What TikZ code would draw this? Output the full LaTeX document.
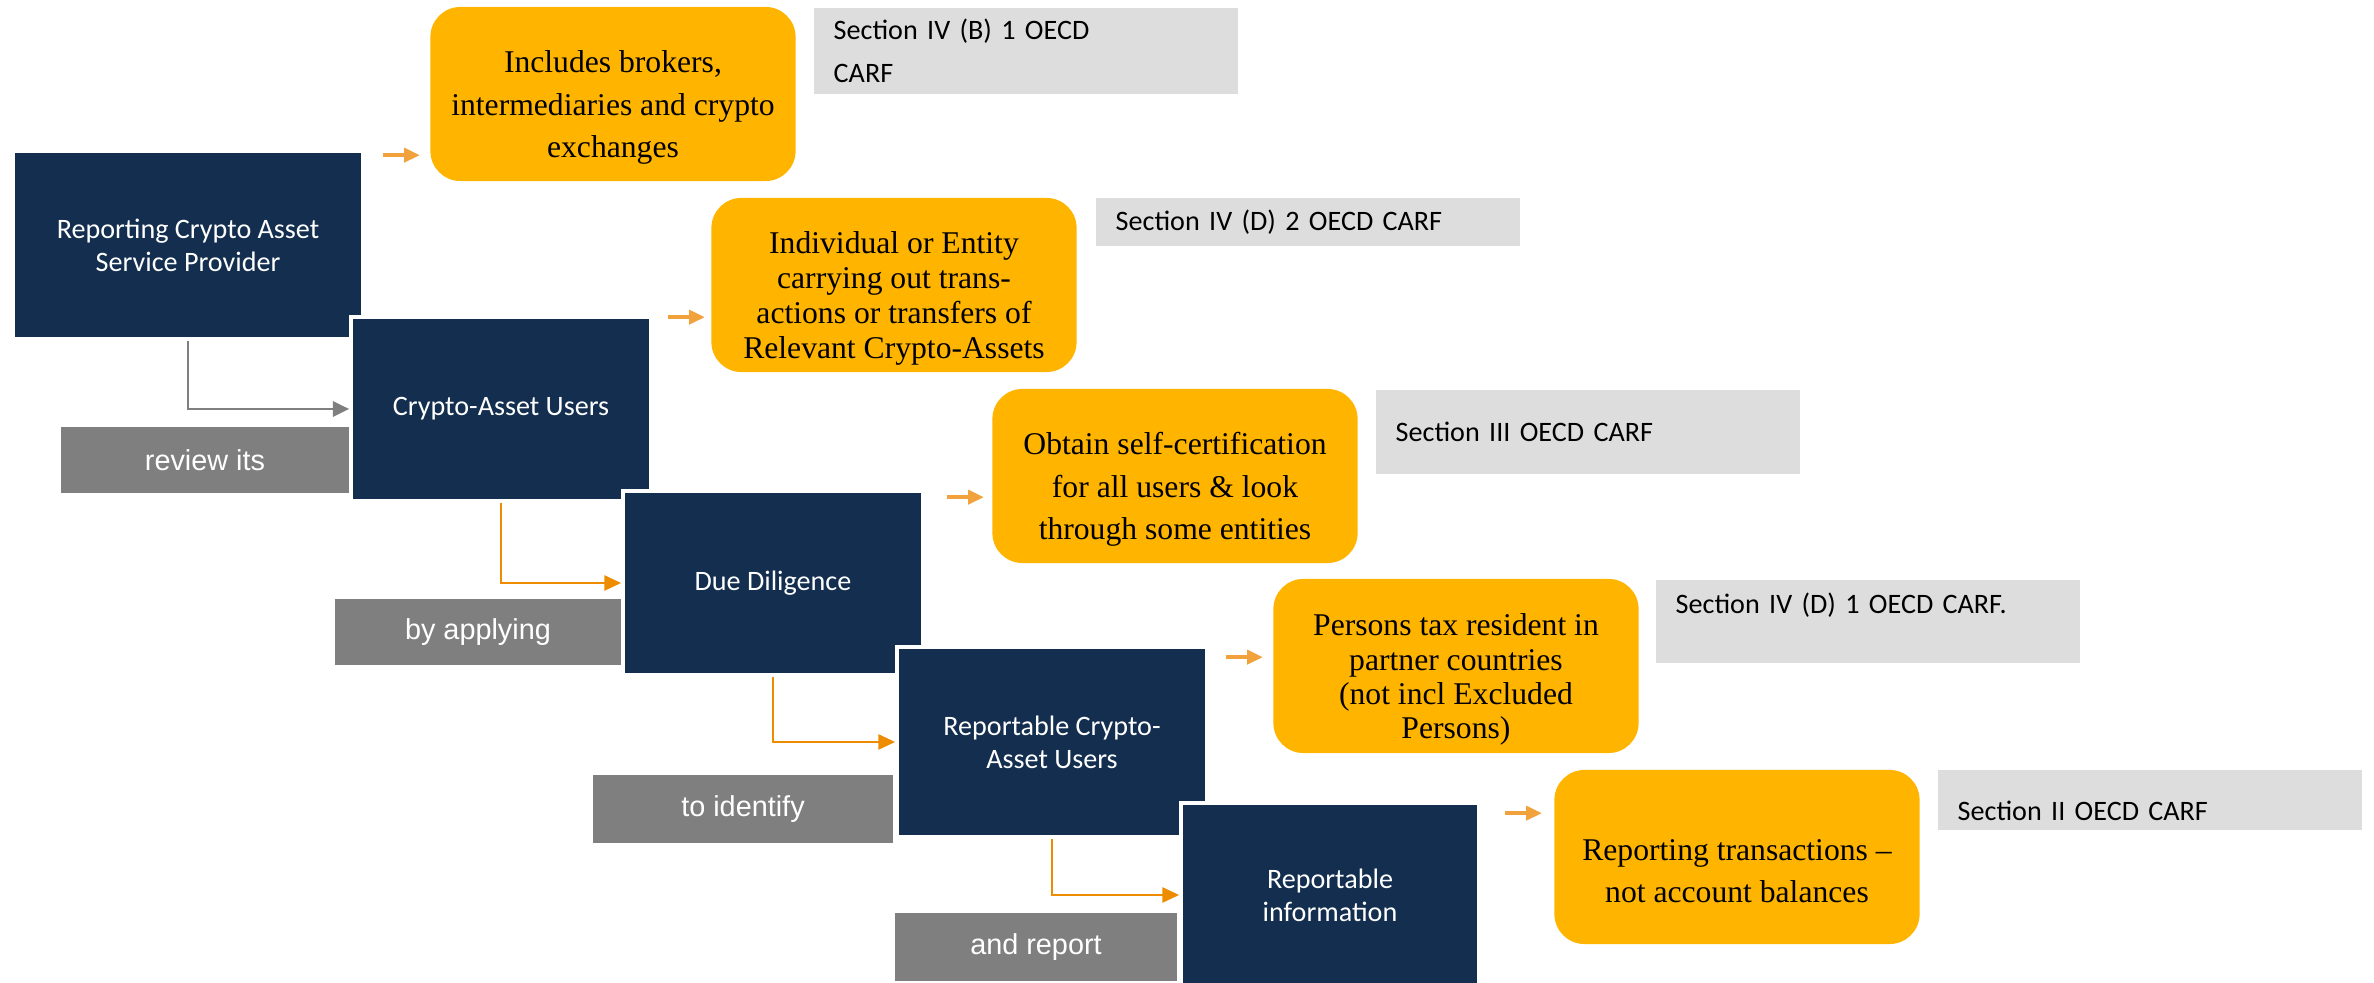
\documentclass[tikz,border=0pt]{standalone}
\usepackage{fontspec}
\setmainfont{Liberation Serif}
\newfontfamily\calibri{Carlito}
\newfontfamily\arialfont{Liberation Sans}
\usetikzlibrary{arrows.meta}
\definecolor{navy}{HTML}{132E4F}
\definecolor{amber}{HTML}{FFB400}
\definecolor{slate}{HTML}{7F7F7F}
\definecolor{mist}{HTML}{DDDDDD}
\definecolor{rust}{HTML}{EE8C00}
\definecolor{peach}{HTML}{F2A23C}
\newcommand\lowline{\rule{0pt}{14pt}}
\tikzset{
  darkbox/.style={fill=navy, draw=white, line width=1pt, text=white, align=center,
    inner sep=0pt, font=\calibri\fontsize{8}{9.4}\selectfont},
  ambox/.style={fill=amber, rounded corners=0.3cm, align=center, inner sep=0pt,
    minimum width=3.65cm, minimum height=1.74cm, font=\fontsize{9}{12}\selectfont},
  refbox/.style={fill=mist, anchor=north west, align=left, inner xsep=0.2cm, inner ysep=0pt,
    text width=3.84cm, font=\calibri\fontsize{8}{12}\selectfont},
  tagbox/.style={fill=slate, text=white, inner sep=0pt, font=\arialfont\fontsize{8.2}{10}\selectfont},
  greyarrow/.style={draw=slate, line width=0.7pt, -{Triangle[length=4.6pt,width=4.3pt]}},
  amberarrow/.style={draw=rust, line width=0.7pt, -{Triangle[length=4.8pt,width=4.3pt]}},
  nudge/.style={draw=peach, line width=1.1pt, -{Triangle[length=4.5pt,width=4pt]}}
}
\begin{document}
\begin{tikzpicture}[x=0.01cm, y=-0.01cm]
  \useasboundingbox (0,0) rectangle (2374,983);

  % grey tags
  \node[tagbox, minimum width=2.88cm, minimum height=0.66cm] (review) at (205,460) {review its};
  \node[tagbox, minimum width=2.86cm, minimum height=0.66cm] (apply) at (478,632) {by applying};
  \node[tagbox, minimum width=3.00cm, minimum height=0.68cm] (identify) at (743,809) {to identify};
  \node[tagbox, minimum width=2.82cm, minimum height=0.68cm] (report) at (1036,947) {and report};

  % dark steps
  \node[darkbox, minimum width=3.50cm, minimum height=1.88cm] (rcasp) at (188,245) {Reporting Crypto Asset\\Service Provider};
  \node[darkbox, minimum width=3.00cm, minimum height=1.84cm] (users) at (501,409) {Crypto-Asset Users};
  \node[darkbox, minimum width=3.00cm, minimum height=1.84cm] (dd) at (773,583) {Due Diligence};
  \node[darkbox, minimum width=3.10cm, minimum height=1.90cm] (repusers) at (1052,742) {Reportable Crypto-\\Asset Users};
  \node[darkbox, minimum width=2.98cm, minimum height=1.84cm] (repinfo) at (1330,895) {Reportable\\information};

  \draw[greyarrow] (rcasp.south) |- (users.west);
  \draw[amberarrow] (users.south) |- (dd.west);
  \draw[amberarrow] (dd.south) |- (repusers.west);
  \draw[amberarrow] (repusers.south) |- (repinfo.west);

  % definitions
  \node[ambox] (brokers) at (613,94) {\lowline Includes brokers,\\intermediaries and crypto\\exchanges};
  \node[ambox, font=\fontsize{9}{10}\selectfont] (entity) at (894,285) {\lowline Individual or Entity\\carrying out trans-\\actions or transfers of\\Relevant Crypto-Assets};
  \node[ambox] (selfcert) at (1175,476) {\lowline Obtain self-certification\\for all users \& look\\through some entities};
  \node[ambox, font=\fontsize{9}{9.8}\selectfont] (residents) at (1456,666) {\lowline Persons tax resident in\\partner countries\\(not incl Excluded\\Persons)};
  \node[ambox] (transactions) at (1737,857) {\lowline Reporting transactions –\\not account balances};

  \draw[nudge] ([shift={(18,6)}]rcasp.north east) -- ++(37,0);
  \draw[nudge] ([shift={(15,2)}]users.north east) -- ++(37,0);
  \draw[nudge] ([shift={(22,8)}]dd.north east) -- ++(37,0);
  \draw[nudge] ([shift={(17,12)}]repusers.north east) -- ++(37,0);
  \draw[nudge] ([shift={(24,12)}]repinfo.north east) -- ++(37,0);

  % references
  \node[refbox, minimum height=0.86cm] (ref1) at (813,7) {Section IV (B) 1 OECD\\CARF};
  \node[refbox, minimum height=0.48cm] (ref2) at (1095,197) {Section IV (D) 2 OECD CARF};
  \node[refbox, minimum height=0.84cm] (ref3) at (1375,389) {Section III OECD CARF};
  \node[refbox, minimum height=0.83cm] (ref4) at (1655,579) {Section IV (D) 1 OECD CARF.\rule[-10pt]{0pt}{10pt}};
  \node[refbox, minimum height=0.60cm] (ref5) at (1937,769) {\rule{0pt}{12pt}Section II OECD CARF};
\end{tikzpicture}
\end{document}
